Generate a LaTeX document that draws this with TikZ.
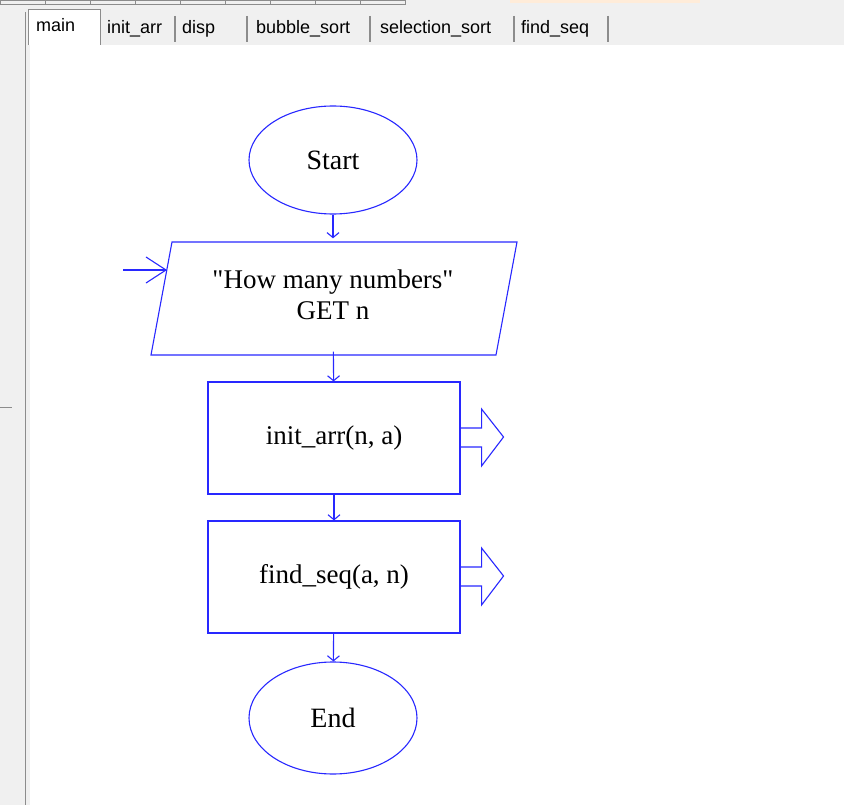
\documentclass[tikz,border=0pt]{standalone}
\usepackage{fontspec}
\setmainfont{Liberation Serif}
\setsansfont{Liberation Sans}
\usetikzlibrary{shapes.geometric,arrows.meta}
\definecolor{flow}{RGB}{40,40,255}
\definecolor{winbg}{RGB}{240,240,240}
\definecolor{tabline}{RGB}{140,140,140}

\begin{document}
\begin{tikzpicture}[x=1pt,y=-1pt,
            tab node/.style={font=\sffamily\fontsize{18}{18}\selectfont,anchor=west,inner sep=0pt},
            terminal node/.style={ellipse,draw=flow,line width=1.1pt,minimum width=168,minimum height=108,font=\fontsize{28}{30}\selectfont},
            call node/.style={rectangle,draw=flow,line width=1.1pt,minimum width=252,minimum height=112,font=\fontsize{28}{30}\selectfont},
            flow line/.style={draw=flow,line width=1.1pt,-{Straight Barb[length=5pt,width=12pt]}},
            ]
            \useasboundingbox (0,0) rectangle (844,805);
            % window
            \fill[winbg] (0,0) rectangle (844,805);
            \fill[white] (30,45) rectangle (844,805);
            \draw[tabline,line width=1pt] (25,12) -- (25,805);
            \draw[tabline,line width=1pt] (0,407) -- (12,407);
            \fill[white!85!orange] (510,0) rectangle (700,3);
            \foreach \x in {0,45,90,135,180,225,270,315,360} \draw[tabline] (\x,0) rectangle ++(45,4);
            % tabs
            \fill[white] (28,10) rectangle (100,45);
            \draw[tabline,line width=1pt] (28,45) -- (28,10) -- (100,10) -- (100,45);
            \foreach \a/\b in {101/175,176/247,248/370,371/514,515/608}
                \draw[tabline,line width=1.2pt] (\b,16) -- (\b,42);
            \node[tab node] (tmain) at (36,25) {main};
            \node[tab node] (tinit) at (107,29) {init\_arr};
            \node[tab node] (tdisp) at (182,29) {disp};
            \node[tab node] (tbubble) at (256,29) {bubble\_sort};
            \node[tab node] (tsel) at (380,29) {selection\_sort};
            \node[tab node] (tfind) at (521,29) {find\_seq};

            % flowchart
            \node[terminal node] (start) at (333,160) {Start};
            \node[minimum width=345,minimum height=113,inner sep=0pt,align=center,font=\fontsize{27}{31}\selectfont] (get) at (333,295) {\textquotedbl How many numbers\textquotedbl\\GET n};
            \draw[flow,line width=1.1pt] (172,242) -- (517,242) -- (496,355) -- (151,355) -- cycle;
            \node[call node,font=\fontsize{27}{30}\selectfont] (init) at (334,438) {init\_arr(n, a)};
            \node[call node,font=\fontsize{27}{30}\selectfont] (find) at (334,577) {find\_seq(a, n)};
            \node[terminal node,minimum height=112] (end) at (333,718) {End};
            \coordinate (entry) at (123,270);

            \draw[flow line] (start) -- (get);
            \draw[flow line] (get) -- (init);
            \draw[flow line] (init) -- (find);
            \draw[flow line] (find) -- (end);
            \draw[draw=flow,line width=1.1pt,-{Straight Barb[length=20pt,width=26pt]}] (entry) -- (167,270);

            % call arrows
            \foreach \n in {init,find}
                \draw[flow,line width=1.1pt] (\n.east) ++(0,-10) -- ++(21,0) -- ++(0,-19) -- ++(22,28)
                    -- ++(-22,29) -- ++(0,-19) -- ++(-21,0);
        \end{tikzpicture}
\end{document}
